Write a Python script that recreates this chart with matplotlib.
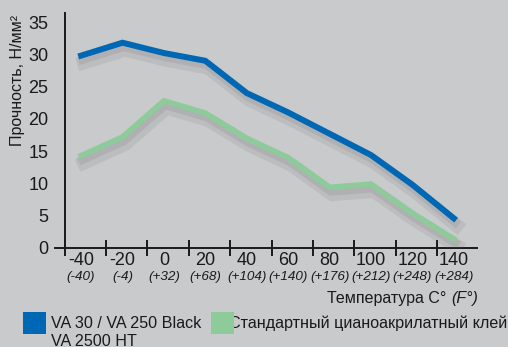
import matplotlib.pyplot as plt
import matplotlib.patheffects as pe
from matplotlib.patches import Rectangle

# данные
temp_c = ["-40", "-20", "0", "20", "40", "60", "80", "100", "120", "140"]
temp_f = ["(-40)", "(-4)", "(+32)", "(+68)", "(+104)", "(+140)", "(+176)", "(+212)", "(+248)", "(+284)"]
va_black = [29.8, 31.8, 30.2, 29.0, 24.0, 21.0, 17.7, 14.4, 9.8, 4.6]
standard = [14.3, 17.2, 22.8, 20.9, 17.0, 14.0, 9.4, 9.9, 5.4, 1.4]
y_ticks = [0, 5, 10, 15, 20, 25, 30, 35]

BLUE = "#0067b4"
GREEN = "#8ecb9b"
BG = "#c9cacc"
INK = "#1a1a1a"

plt.rcParams['font.family'] = ['Liberation Sans', 'DejaVu Sans']

fig = plt.figure(figsize=(5.08, 3.47), dpi=100)
fig.patch.set_facecolor(BG)
ax = fig.add_axes([55 / 508, 1 - 248 / 347, 422 / 508, 235 / 347])
ax.set_facecolor("none")

x = list(range(len(temp_c)))
shadow = [pe.SimpleLineShadow(offset=(2, -5), shadow_color="#6a6a6a", alpha=0.13, linewidth=10),
          pe.SimpleLineShadow(offset=(1, -3), shadow_color="#5a5a5a", alpha=0.12, linewidth=6),
          pe.Normal()]
ax.plot(x, va_black, color=BLUE, lw=4.3, solid_joinstyle="miter", path_effects=shadow, zorder=3)
ax.plot(x, standard, color=GREEN, lw=4.0, solid_joinstyle="miter", path_effects=shadow, zorder=3)

ax.set_xlim(-0.63, 9.56)
ax.set_ylim(0, 36.4)

for s in ["top", "right"]:
    ax.spines[s].set_visible(False)
ax.spines["left"].set_position(("data", -0.4))
ax.spines["left"].set_color(INK)
ax.spines["bottom"].set_color(INK)
ax.spines["left"].set_linewidth(1.4)
ax.spines["bottom"].set_linewidth(1.4)

ax.set_yticks(y_ticks)
ax.set_yticklabels([str(v) for v in y_ticks], fontsize=13, color=INK)
ax.tick_params(axis="y", length=0, pad=11.5)

ax.set_xticks(x)
ax.set_xticklabels(temp_c, fontsize=13, color=INK)
ax.tick_params(axis="x", which="major", length=0, pad=3)
ax.set_xticks([i - 0.4 for i in x], minor=True)
ax.tick_params(axis="x", which="minor", direction="inout", length=11, width=1.4, color=INK)

for i, f in enumerate(temp_f):
    ax.text(i, -0.125, f, transform=ax.get_xaxis_transform(), ha="center", va="center",
            fontsize=9.7, style="italic", color=INK)

fig.text(18 / 508, 1 - 80 / 347, "Прочность, Н/мм²", rotation=90, ha="center", va="center",
         fontsize=11.5, color=INK)

fig.text(478 / 508, 1 - 298 / 347, "Температура C° ", ha="right", va="center", fontsize=11.5, color=INK)
t = fig.text(478 / 508, 1 - 298 / 347, "(F°)", ha="right", va="center", fontsize=11.5,
             style="italic", color=INK)
# сдвигаем обычную часть левее курсивной
fig.canvas.draw()
w = t.get_window_extent().width
fig.texts[-2].set_x((478 - w) / 508)

# легенда
fig.patches.append(Rectangle((23 / 508, 1 - 334 / 347), 23 / 508, 22 / 347,
                             transform=fig.transFigure, facecolor=BLUE, edgecolor="none", zorder=5))
fig.text(51 / 508, 1 - 323 / 347, "VA 30 / VA 250 Black", ha="left", va="center", fontsize=11.6, color=INK)
fig.text(51 / 508, 1 - 341 / 347, "VA 2500 HT", ha="left", va="center", fontsize=11.6, color=INK)
fig.text(229 / 508, 1 - 323 / 347, "Стандартный цианоакрилатный клей", ha="left", va="center",
         fontsize=11.6, color=INK, zorder=1)
fig.patches.append(Rectangle((211 / 508, 1 - 334 / 347), 23 / 508, 22 / 347,
                             transform=fig.transFigure, facecolor=GREEN, edgecolor="none", zorder=5))

fig.savefig("out.png", dpi=100, facecolor=BG)
